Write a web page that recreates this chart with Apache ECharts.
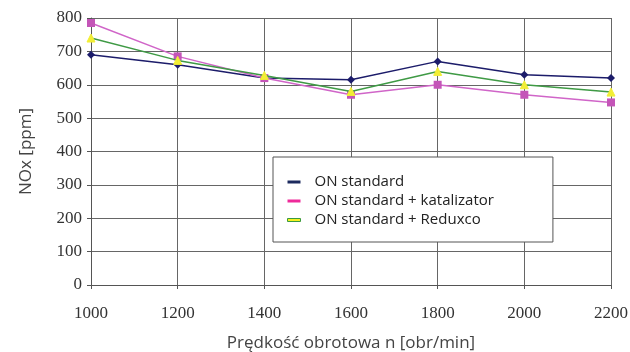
<!DOCTYPE html>
<html><head><meta charset="utf-8">
<script src="https://cdn.jsdelivr.net/npm/echarts@6/dist/echarts.min.js"></script>
<style>html,body{margin:0;padding:0;background:#fff}#c{width:630px;height:352px}</style>
</head><body><div id="c"></div>
<script>
const rpm = [1000, 1200, 1400, 1600, 1800, 2000, 2200];
const onStandard = [690, 660, 620, 615, 670, 630, 620];
const onKatalizator = [785, 685, 620, 570, 600, 570, 547];
const onReduxco = [740, 673, 628, 580, 640, 600, 578];
const seriesNames = ['ON standard', 'ON standard + katalizator', 'ON standard + Reduxco'];
const yTicks = [0, 100, 200, 300, 400, 500, 600, 700, 800];

const pair = arr => rpm.map((x, i) => [x, arr[i]]);
const chart = echarts.init(document.getElementById('c'));
chart.setOption({
  animation: false,
  grid: {left: 91, right: 19, top: 18, bottom: 67, containLabel: false, outerBoundsMode: 'none'},
  legend: {
    left: 273, top: 157,
    orient: 'vertical',
    itemGap: 1,
    itemWidth: 13, itemHeight: 3,
    icon: 'rect',
    padding: [16, 59, 13, 14],
    borderColor: '#555', borderWidth: 1,
    backgroundColor: '#fff',
    textStyle: {fontFamily: 'Open Sans', fontSize: 15, lineHeight: 18, color: '#222', padding: [0, 0, 0, 9]},
    data: seriesNames
  },
  xAxis: {
    type: 'value', min: 1000, max: 2200, interval: 200,
    name: 'Prędkość obrotowa n [obr/min]', nameLocation: 'middle', nameGap: 50,
    nameTextStyle: {fontFamily: 'Open Sans', fontSize: 17, color: '#444'},
    axisLine: {show: true, lineStyle: {color: '#555'}},
    axisTick: {show: true, length: 4, lineStyle: {color: '#555'}},
    axisLabel: {fontFamily: 'Liberation Serif', fontSize: 17, color: '#333', margin: 20,
      formatter: v => String(v)},
    splitLine: {show: true, lineStyle: {color: '#666', width: 1}}
  },
  yAxis: {
    type: 'value', min: 0, max: 800, interval: 100,
    name: 'NOx [ppm]', nameLocation: 'middle', nameGap: 56,
    nameTextStyle: {fontFamily: 'Open Sans', fontSize: 17, color: '#444'},
    axisLine: {show: true, lineStyle: {color: '#555'}},
    axisTick: {show: true, length: 4, lineStyle: {color: '#555'}},
    axisLabel: {fontFamily: 'Liberation Serif', fontSize: 17, color: '#333', margin: 9,
      formatter: v => yTicks.includes(v) ? String(v) : ''},
    splitLine: {show: true, lineStyle: {color: '#666', width: 1}}
  },
  series: [
    {name: seriesNames[0], type: 'line', data: pair(onStandard), symbol: 'diamond', symbolSize: 8,
      lineStyle: {color: '#1c1c6a', width: 1.5}, itemStyle: {color: '#1c1c6a'}, z: 3},
    {name: seriesNames[1], type: 'line', data: pair(onKatalizator), symbol: 'rect', symbolSize: 8,
      lineStyle: {color: '#d065c8', width: 1.5}, itemStyle: {color: '#c455b8'}, z: 4},
    {name: seriesNames[2], type: 'line', data: pair(onReduxco), symbol: 'triangle', symbolSize: 8,
      lineStyle: {color: '#3f9a45', width: 1.5}, itemStyle: {color: '#f2ee35', borderColor: '#f2ee35'}, z: 5}
  ]
});
chart.setOption({legend: {data: [
  {name: seriesNames[0], itemStyle: {color: '#1c2a5e'}},
  {name: seriesNames[1], itemStyle: {color: '#ee2a9a'}},
  {name: seriesNames[2], itemStyle: {color: '#f5f020', borderColor: '#3a9a40', borderWidth: 1}}
]}});
</script></body></html>
